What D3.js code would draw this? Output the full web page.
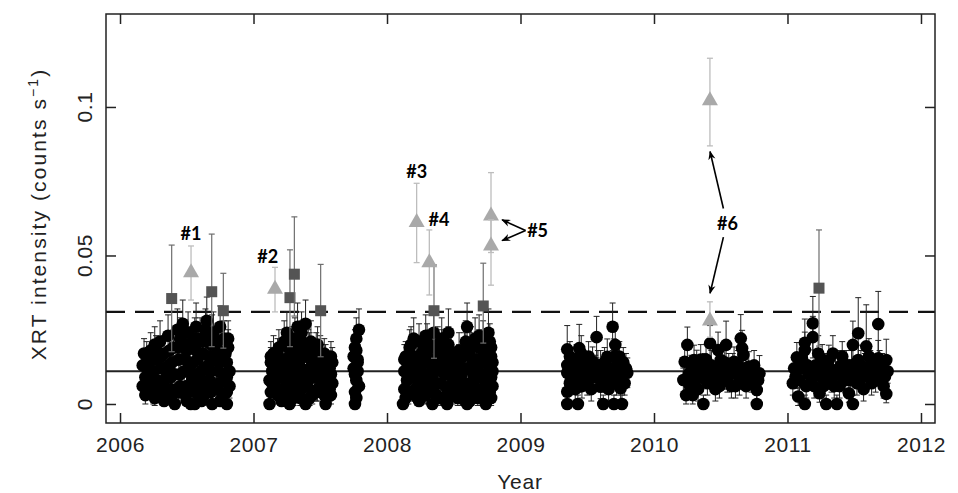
<!DOCTYPE html>
<html><head><meta charset="utf-8">
<script src="https://cdn.jsdelivr.net/npm/d3@7"></script>
<style>
html,body{margin:0;padding:0;background:#fff;}
svg{display:block;}
</style></head>
<body>
<svg id="chart" width="958" height="493"></svg>
<script>
// ---------------- DATA ----------------
// tick labels
const yearTicks = [2006, 2007, 2008, 2009, 2010, 2011, 2012];
const rateTicks = [0, 0.05, 0.1];
const rateTickLabels = ["0", "0.05", "0.1"];

// reference levels
const meanLevel = 0.011;
const thresholdLevel = 0.031;

// regular observations: [year, rate, error]
const obs2006 = [
[2006.17,0.013,0.004],[2006.17,0.006,0.003],[2006.18,0.017,0.005],[2006.19,0.009,0.004],[2006.19,0.003,0.003],[2006.21,0.014,0.005],[2006.22,0.007,0.004],[2006.23,0.018,0.006],[2006.24,0.011,0.004],[2006.25,0.003,0.003],[2006.26,0.020,0.006],[2006.27,0.015,0.005],[2006.28,0.008,0.004],[2006.30,0.021,0.007],[2006.31,0.012,0.005],[2006.32,0.004,0.003],[2006.33,0.017,0.006],[2006.35,0.009,0.004],[2006.36,0.023,0.007],[2006.37,0.013,0.005],[2006.38,0.005,0.003],[2006.40,0.019,0.006],[2006.41,0.000,0.003],[2006.41,0.010,0.004],[2006.43,0.025,0.007],[2006.44,0.015,0.005],[2006.45,0.006,0.004],[2006.46,0.021,0.007],[2006.47,0.027,0.008],[2006.48,0.011,0.005],[2006.49,0.003,0.003],[2006.50,0.018,0.006],[2006.51,0.024,0.007],[2006.52,0.013,0.005],[2006.53,0.000,0.003],[2006.54,0.008,0.004],[2006.55,0.020,0.006],[2006.56,0.000,0.003],[2006.57,0.026,0.008],[2006.58,0.015,0.005],[2006.59,0.005,0.004],[2006.60,0.022,0.007],[2006.61,0.011,0.005],[2006.62,0.017,0.006],[2006.63,0.003,0.003],[2006.64,0.025,0.007],[2006.65,0.028,0.008],[2006.66,0.013,0.005],[2006.67,0.008,0.004],[2006.68,0.020,0.006],[2006.69,0.000,0.003],[2006.70,0.024,0.007],[2006.71,0.015,0.005],[2006.72,0.005,0.004],[2006.73,0.021,0.006],[2006.74,0.011,0.005],[2006.75,0.026,0.007],[2006.76,0.017,0.006],[2006.77,0.003,0.003],[2006.78,0.022,0.006],[2006.79,0.009,0.004],[2006.80,0.000,0.003],[2006.80,0.014,0.005],[2006.81,0.019,0.006],[2006.82,0.006,0.004],[2006.82,0.011,0.004],
[2006.20,0.005,0.003],[2006.21,0.010,0.004],[2006.20,0.016,0.005],[2006.26,0.006,0.003],[2006.25,0.011,0.004],[2006.27,0.018,0.005],[2006.26,0.002,0.003],[2006.32,0.007,0.004],[2006.33,0.012,0.004],[2006.31,0.016,0.005],[2006.33,0.001,0.003],[2006.38,0.009,0.004],[2006.39,0.014,0.005],[2006.37,0.018,0.006],[2006.39,0.003,0.003],[2006.44,0.004,0.003],[2006.45,0.010,0.004],[2006.43,0.019,0.006],[2006.45,0.022,0.007],[2006.50,0.006,0.004],[2006.50,0.011,0.004],[2006.49,0.015,0.005],[2006.51,0.020,0.006],[2006.50,0.001,0.003],[2006.56,0.004,0.003],[2006.56,0.010,0.004],[2006.55,0.014,0.005],[2006.57,0.018,0.006],[2006.56,0.022,0.007],[2006.62,0.006,0.004],[2006.61,0.008,0.004],[2006.63,0.012,0.005],[2006.62,0.021,0.006],[2006.61,0.001,0.003],[2006.68,0.004,0.003],[2006.68,0.011,0.004],[2006.67,0.016,0.005],[2006.69,0.023,0.007],[2006.74,0.007,0.004],[2006.74,0.014,0.005],[2006.73,0.018,0.006],[2006.75,0.001,0.003],[2006.80,0.004,0.003],[2006.80,0.009,0.004],[2006.79,0.017,0.005],[2006.81,0.022,0.006]
];
const obs2007 = [
[2007.12,0.000,0.003],[2007.12,0.008,0.004],[2007.13,0.014,0.005],[2007.13,0.004,0.003],[2007.14,0.011,0.004],[2007.15,0.017,0.006],[2007.16,0.006,0.004],[2007.17,0.013,0.005],[2007.18,0.003,0.003],[2007.19,0.019,0.006],[2007.20,0.009,0.004],[2007.21,0.015,0.005],[2007.22,0.005,0.003],[2007.23,0.021,0.007],[2007.24,0.011,0.005],[2007.25,0.024,0.007],[2007.26,0.003,0.003],[2007.27,0.000,0.003],[2007.27,0.016,0.005],[2007.28,0.008,0.004],[2007.29,0.020,0.006],[2007.30,0.005,0.003],[2007.31,0.012,0.005],[2007.32,0.018,0.006],[2007.33,0.026,0.008],[2007.33,0.007,0.004],[2007.34,0.014,0.005],[2007.35,0.002,0.003],[2007.36,0.021,0.007],[2007.37,0.010,0.004],[2007.38,0.016,0.005],[2007.39,0.000,0.003],[2007.39,0.027,0.008],[2007.40,0.006,0.004],[2007.41,0.019,0.006],[2007.42,0.012,0.005],[2007.43,0.021,0.007],[2007.44,0.003,0.003],[2007.45,0.015,0.005],[2007.46,0.009,0.004],[2007.47,0.018,0.006],[2007.48,0.005,0.004],[2007.49,0.013,0.005],[2007.50,0.017,0.006],[2007.51,0.008,0.004],[2007.52,0.011,0.005],[2007.53,0.003,0.003],[2007.54,0.000,0.003],[2007.54,0.015,0.005],[2007.55,0.009,0.004],[2007.56,0.012,0.005],[2007.57,0.005,0.004],[2007.58,0.010,0.004],[2007.59,0.014,0.005],[2007.59,0.007,0.004],
[2007.14,0.007,0.004],[2007.15,0.012,0.004],[2007.13,0.016,0.005],[2007.19,0.004,0.003],[2007.20,0.013,0.005],[2007.18,0.017,0.005],[2007.21,0.001,0.003],[2007.25,0.006,0.004],[2007.24,0.010,0.004],[2007.26,0.019,0.006],[2007.25,0.014,0.005],[2007.30,0.002,0.003],[2007.31,0.009,0.004],[2007.30,0.015,0.005],[2007.31,0.022,0.007],[2007.36,0.005,0.003],[2007.35,0.012,0.004],[2007.37,0.017,0.005],[2007.36,0.024,0.007],[2007.42,0.002,0.003],[2007.41,0.008,0.004],[2007.43,0.015,0.005],[2007.42,0.018,0.006],[2007.47,0.004,0.003],[2007.48,0.011,0.004],[2007.46,0.014,0.005],[2007.48,0.020,0.006],[2007.53,0.006,0.004],[2007.52,0.013,0.005],[2007.53,0.017,0.005],[2007.58,0.003,0.003],[2007.57,0.012,0.004],[2007.58,0.016,0.005]
];
const obs2007b = [
[2007.76,0.000,0.003],[2007.76,0.004,0.003],[2007.77,0.008,0.004],[2007.75,0.012,0.004],[2007.78,0.015,0.005],[2007.76,0.019,0.006],[2007.77,0.022,0.007],[2007.79,0.025,0.007],[2007.78,0.011,0.004],[2007.79,0.006,0.003],[2007.75,0.016,0.005],[2007.77,0.002,0.003],[2007.76,0.010,0.004],[2007.78,0.014,0.005],[2007.77,0.018,0.006]
];
const obs2008 = [
[2008.12,0.000,0.003],[2008.13,0.005,0.003],[2008.13,0.011,0.004],[2008.14,0.016,0.005],[2008.15,0.008,0.004],[2008.16,0.003,0.003],[2008.17,0.019,0.006],[2008.18,0.013,0.005],[2008.19,0.009,0.004],[2008.20,0.022,0.007],[2008.21,0.005,0.004],[2008.22,0.016,0.005],[2008.23,0.002,0.003],[2008.24,0.021,0.006],[2008.25,0.012,0.005],[2008.26,0.008,0.004],[2008.27,0.018,0.006],[2008.28,0.004,0.003],[2008.29,0.023,0.007],[2008.30,0.014,0.005],[2008.31,0.010,0.004],[2008.32,0.019,0.006],[2008.33,0.006,0.004],[2008.34,0.000,0.003],[2008.34,0.015,0.005],[2008.35,0.024,0.008],[2008.36,0.011,0.005],[2008.37,0.003,0.003],[2008.38,0.020,0.006],[2008.39,0.013,0.005],[2008.40,0.007,0.004],[2008.41,0.022,0.007],[2008.42,0.016,0.005],[2008.43,0.002,0.003],[2008.44,0.010,0.004],[2008.45,0.000,0.003],[2008.46,0.024,0.008],[2008.46,0.014,0.005],[2008.47,0.006,0.004],[2008.48,0.017,0.006],[2008.49,0.011,0.004],
[2008.14,0.002,0.003],[2008.15,0.012,0.004],[2008.13,0.015,0.005],[2008.19,0.004,0.003],[2008.20,0.011,0.004],[2008.19,0.016,0.005],[2008.18,0.020,0.006],[2008.24,0.006,0.004],[2008.25,0.015,0.005],[2008.23,0.010,0.004],[2008.24,0.001,0.003],[2008.29,0.003,0.003],[2008.30,0.008,0.004],[2008.29,0.017,0.005],[2008.30,0.021,0.006],[2008.35,0.004,0.003],[2008.34,0.009,0.004],[2008.36,0.019,0.006],[2008.35,0.013,0.005],[2008.40,0.002,0.003],[2008.41,0.011,0.004],[2008.39,0.016,0.005],[2008.41,0.019,0.006],[2008.45,0.005,0.003],[2008.45,0.012,0.004],[2008.44,0.018,0.006],[2008.46,0.020,0.006],[2008.49,0.003,0.003],[2008.50,0.008,0.004],[2008.49,0.014,0.005]
];
const obs2008b = [
[2008.52,0.006,0.004],[2008.53,0.013,0.005],[2008.54,0.018,0.006],[2008.55,0.002,0.003],[2008.56,0.010,0.004],[2008.57,0.016,0.005],[2008.58,0.007,0.004],[2008.59,0.021,0.007],[2008.60,0.000,0.003],[2008.60,0.026,0.008],[2008.61,0.012,0.005],[2008.62,0.018,0.006],[2008.63,0.004,0.003],[2008.64,0.015,0.005],[2008.65,0.009,0.004],[2008.66,0.022,0.007],[2008.67,0.012,0.005],[2008.68,0.005,0.003],[2008.69,0.019,0.006],[2008.70,0.010,0.004],[2008.71,0.002,0.003],[2008.72,0.021,0.007],[2008.73,0.014,0.005],[2008.74,0.000,0.003],[2008.74,0.007,0.004],[2008.75,0.017,0.006],[2008.76,0.024,0.008],[2008.77,0.011,0.005],[2008.77,0.004,0.003],[2008.78,0.019,0.006],[2008.78,0.009,0.004],[2008.79,0.014,0.005],
[2008.53,0.002,0.003],[2008.53,0.009,0.004],[2008.54,0.015,0.005],[2008.58,0.004,0.003],[2008.57,0.012,0.004],[2008.58,0.018,0.006],[2008.59,0.001,0.003],[2008.63,0.007,0.004],[2008.64,0.011,0.004],[2008.63,0.020,0.006],[2008.62,0.001,0.003],[2008.68,0.002,0.003],[2008.68,0.009,0.004],[2008.67,0.015,0.005],[2008.69,0.023,0.007],[2008.73,0.004,0.003],[2008.72,0.010,0.004],[2008.73,0.017,0.005],[2008.78,0.002,0.003],[2008.79,0.006,0.004],[2008.77,0.021,0.006],[2008.79,0.011,0.004],[2008.78,0.016,0.005]
];
const obs2009 = [
[2009.35,0.0184,0.008],[2009.35,0.0131,0.005],[2009.35,0.0105,0.004],[2009.35,0.0041,0.003],[2009.35,0.000,0.003],[2009.38,0.009,0.004],[2009.40,0.012,0.005],[2009.44,0.0188,0.008],[2009.455,0.017,0.006],[2009.467,0.013,0.005],[2009.43,0.011,0.004],[2009.44,0.008,0.004],[2009.43,0.000,0.003],[2009.47,0.010,0.004],[2009.50,0.007,0.004],[2009.52,0.012,0.005],[2009.54,0.0142,0.005],[2009.57,0.0225,0.007],[2009.56,0.0114,0.005],[2009.58,0.009,0.004],[2009.60,0.0058,0.004],[2009.60,0.013,0.005],[2009.62,0.000,0.003],[2009.64,0.008,0.004],[2009.65,0.0159,0.006],[2009.67,0.012,0.005],[2009.69,0.026,0.008],[2009.71,0.0199,0.007],[2009.70,0.0159,0.006],[2009.69,0.0114,0.005],[2009.72,0.007,0.004],[2009.73,0.0126,0.005],[2009.75,0.0105,0.004],[2009.75,0.0053,0.004],[2009.70,0.000,0.003],[2009.76,0.000,0.003],[2009.77,0.014,0.005],[2009.78,0.007,0.004],[2009.80,0.0105,0.005],
[2009.37,0.007,0.004],[2009.37,0.016,0.005],[2009.41,0.005,0.004],[2009.42,0.015,0.005],[2009.46,0.006,0.004],[2009.49,0.011,0.004],[2009.51,0.016,0.005],[2009.53,0.005,0.004],[2009.55,0.009,0.004],[2009.58,0.013,0.005],[2009.62,0.010,0.004],[2009.63,0.014,0.005],[2009.66,0.005,0.004],[2009.68,0.009,0.004],[2009.72,0.013,0.005],[2009.74,0.016,0.005],[2009.79,0.012,0.005]
];
const obs2010 = [
[2010.25,0.0199,0.006],[2010.23,0.0142,0.005],[2010.22,0.0081,0.004],[2010.24,0.003,0.003],[2010.27,0.006,0.004],[2010.29,0.003,0.003],[2010.28,0.0114,0.005],[2010.30,0.0148,0.005],[2010.32,0.0131,0.005],[2010.34,0.009,0.004],[2010.35,0.015,0.005],[2010.37,0.000,0.003],[2010.38,0.012,0.005],[2010.40,0.007,0.004],[2010.42,0.0204,0.006],[2010.44,0.010,0.004],[2010.46,0.005,0.004],[2010.48,0.0182,0.006],[2010.50,0.0148,0.005],[2010.52,0.009,0.004],[2010.54,0.0199,0.008],[2010.56,0.012,0.005],[2010.58,0.006,0.004],[2010.60,0.0142,0.005],[2010.62,0.010,0.004],[2010.64,0.007,0.004],[2010.65,0.0221,0.008],[2010.66,0.0188,0.006],[2010.67,0.0165,0.006],[2010.68,0.009,0.004],[2010.71,0.0126,0.005],[2010.73,0.008,0.004],[2010.75,0.013,0.005],[2010.77,0.0047,0.004],[2010.77,0.000,0.003],[2010.79,0.0103,0.006],
[2010.26,0.010,0.004],[2010.31,0.008,0.004],[2010.33,0.005,0.004],[2010.36,0.011,0.004],[2010.39,0.015,0.005],[2010.41,0.010,0.004],[2010.43,0.013,0.005],[2010.45,0.008,0.004],[2010.47,0.012,0.005],[2010.49,0.006,0.004],[2010.51,0.011,0.004],[2010.53,0.014,0.005],[2010.55,0.008,0.004],[2010.57,0.010,0.004],[2010.59,0.012,0.005],[2010.61,0.006,0.004],[2010.63,0.013,0.005],[2010.66,0.011,0.004],[2010.69,0.006,0.004],[2010.70,0.010,0.004],[2010.74,0.010,0.004],[2010.78,0.008,0.004]
];
const obs2011 = [
[2011.04,0.007,0.004],[2011.06,0.0092,0.004],[2011.07,0.0157,0.005],[2011.08,0.0025,0.003],[2011.10,0.012,0.005],[2011.13,0.0206,0.008],[2011.13,0.0182,0.006],[2011.13,0.000,0.003],[2011.16,0.010,0.004],[2011.19,0.0272,0.009],[2011.19,0.0225,0.007],[2011.20,0.006,0.004],[2011.21,0.013,0.005],[2011.23,0.017,0.006],[2011.24,0.0036,0.003],[2011.26,0.009,0.004],[2011.26,0.015,0.005],[2011.28,0.012,0.005],[2011.29,0.000,0.003],[2011.31,0.0148,0.005],[2011.33,0.008,0.004],[2011.34,0.017,0.006],[2011.36,0.011,0.005],[2011.37,0.000,0.003],[2011.39,0.006,0.004],[2011.41,0.010,0.004],[2011.41,0.016,0.005],[2011.44,0.013,0.005],[2011.46,0.0036,0.003],[2011.47,0.008,0.004],[2011.49,0.0199,0.008],[2011.49,0.000,0.003],[2011.51,0.011,0.005],[2011.53,0.0238,0.012],[2011.53,0.0148,0.005],[2011.56,0.009,0.004],[2011.57,0.005,0.004],[2011.58,0.012,0.005],[2011.59,0.0194,0.014],[2011.61,0.016,0.006],[2011.63,0.007,0.004],[2011.65,0.011,0.005],[2011.68,0.0269,0.011],[2011.68,0.0154,0.006],[2011.70,0.010,0.004],[2011.72,0.006,0.004],[2011.73,0.0092,0.004],[2011.74,0.0148,0.007],[2011.74,0.0034,0.003],
[2011.05,0.012,0.004],[2011.09,0.008,0.004],[2011.11,0.015,0.005],[2011.14,0.006,0.004],[2011.15,0.013,0.005],[2011.18,0.009,0.004],[2011.22,0.010,0.004],[2011.25,0.012,0.005],[2011.27,0.006,0.004],[2011.30,0.009,0.004],[2011.32,0.012,0.005],[2011.35,0.006,0.004],[2011.38,0.010,0.004],[2011.40,0.013,0.005],[2011.43,0.008,0.004],[2011.45,0.011,0.004],[2011.48,0.013,0.005],[2011.52,0.007,0.004],[2011.55,0.013,0.005],[2011.60,0.010,0.004],[2011.62,0.013,0.005],[2011.66,0.008,0.004],[2011.69,0.013,0.005],[2011.71,0.012,0.005],[2011.75,0.011,0.004]
];

// moderately bright observations (dark grey squares): year, rate, lower, upper
const sqYear  = [2006.387, 2006.687, 2006.774, 2007.273, 2007.306, 2007.503, 2008.352, 2008.721, 2011.236];
const sqRate  = [0.0355, 0.0378, 0.0314, 0.0358, 0.0437, 0.0314, 0.0314, 0.0330, 0.0390];
const sqLow   = [0.0176, 0.0193, 0.0188, 0.0193, 0.0296, 0.0159, 0.0154, 0.0205, 0.0195];
const sqHigh  = [0.0535, 0.0572, 0.0440, 0.0519, 0.0630, 0.0470, 0.0468, 0.0474, 0.0586];

// flares (light grey triangles)
const flYear  = [2006.532, 2007.161, 2008.222, 2008.317, 2008.779, 2008.779, 2010.419, 2010.419];
const flRate  = [0.0445, 0.0390, 0.0614, 0.0479, 0.0636, 0.0535, 0.1024, 0.0283];
const flLow   = [0.0350, 0.0310, 0.0476, 0.0367, 0.0510, 0.0400, 0.0869, 0.0225];
const flHigh  = [0.0532, 0.0460, 0.0743, 0.0586, 0.0779, 0.0620, 0.1164, 0.0344];

// flare labels: text, year, rate
const flareLabels = ["#1", "#2", "#3", "#4", "#5", "#6"];
const flareLabelYear = [2006.532, 2007.107, 2008.222, 2008.389, 2009.05, 2010.55];
const flareLabelRate = [0.0575, 0.0497, 0.0785, 0.0623, 0.0585, 0.0610];

// ---------------- CHART ----------------
const svg = d3.select("#chart");
const L = 106, R = 935, T = 14, B = 423;
const x = d3.scaleLinear().domain([2005.895, 2012.105]).range([L, R]);
const y = d3.scaleLinear().domain([-0.0064, 0.1313]).range([B, T]);
const axisFont = "'Liberation Sans', Arial, sans-serif";

// reference lines
svg.append("line").attr("x1", L).attr("x2", R).attr("y1", y(meanLevel)).attr("y2", y(meanLevel))
  .attr("stroke", "#222").attr("stroke-width", 2);
svg.append("line").attr("x1", L).attr("x2", R).attr("y1", y(thresholdLevel)).attr("y2", y(thresholdLevel))
  .attr("stroke", "#111").attr("stroke-width", 2.2).attr("stroke-dasharray", "19,10");

// black observations
const allObs = [].concat(obs2006, obs2007, obs2007b, obs2008, obs2008b, obs2009, obs2010, obs2011);
const eb = svg.append("g").attr("stroke", "#222").attr("stroke-width", 1).attr("fill", "none");
allObs.forEach(d => {
  const cx = x(d[0]), y1 = y(d[1] + d[2]), y0 = y(Math.max(d[1] - d[2], -0.0005));
  eb.append("line").attr("x1", cx).attr("x2", cx).attr("y1", y1).attr("y2", y0);
  eb.append("line").attr("x1", cx - 3).attr("x2", cx + 3).attr("y1", y1).attr("y2", y1);
  eb.append("line").attr("x1", cx - 3).attr("x2", cx + 3).attr("y1", y0).attr("y2", y0);
});
svg.append("g").selectAll("circle").data(allObs).join("circle")
  .attr("cx", d => x(d[0])).attr("cy", d => y(d[1])).attr("r", 6.3).attr("fill", "#000");

// squares
const sqG = svg.append("g");
sqYear.forEach((yr, i) => {
  const cx = x(yr);
  sqG.append("line").attr("x1", cx).attr("x2", cx).attr("y1", y(sqHigh[i])).attr("y2", y(sqLow[i])).attr("stroke", "#6e6e6e").attr("stroke-width", 1.2);
  [sqHigh[i], sqLow[i]].forEach(v => sqG.append("line").attr("x1", cx - 3).attr("x2", cx + 3).attr("y1", y(v)).attr("y2", y(v)).attr("stroke", "#6e6e6e").attr("stroke-width", 1.2));
  sqG.append("rect").attr("x", cx - 5.5).attr("y", y(sqRate[i]) - 5.5).attr("width", 11).attr("height", 11).attr("fill", "#545454");
});

// triangles
const trG = svg.append("g");
flYear.forEach((yr, i) => {
  const cx = x(yr);
  trG.append("line").attr("x1", cx).attr("x2", cx).attr("y1", y(flHigh[i])).attr("y2", y(flLow[i])).attr("stroke", "#bdbdbd").attr("stroke-width", 1.3);
  [flHigh[i], flLow[i]].forEach(v => trG.append("line").attr("x1", cx - 3).attr("x2", cx + 3).attr("y1", y(v)).attr("y2", y(v)).attr("stroke", "#bdbdbd").attr("stroke-width", 1.3));
  const cy = y(flRate[i]);
  trG.append("path").attr("d", `M${cx},${cy - 8.5}L${cx + 8},${cy + 5.5}L${cx - 8},${cy + 5.5}Z`).attr("fill", "#a9a9a9");
});

// frame
svg.append("rect").attr("x", L).attr("y", T).attr("width", R - L).attr("height", B - T)
  .attr("fill", "none").attr("stroke", "#222").attr("stroke-width", 1.5);

// axes (ticks inward)
const ax = svg.append("g").attr("transform", `translate(0,${B})`)
  .call(d3.axisBottom(x).tickValues(yearTicks).tickFormat(d3.format("d")).tickSize(-10).tickPadding(14));
const axT = svg.append("g").attr("transform", `translate(0,${T})`)
  .call(d3.axisTop(x).tickValues(yearTicks).tickFormat("").tickSize(-10));
const ayL = svg.append("g").attr("transform", `translate(${L},0)`)
  .call(d3.axisLeft(y).tickValues(rateTicks).tickFormat("").tickSize(-10));
const ayR = svg.append("g").attr("transform", `translate(${R},0)`)
  .call(d3.axisRight(y).tickValues(rateTicks).tickFormat("").tickSize(-10));
[ax, axT, ayL, ayR].forEach(g => {
  g.select(".domain").remove();
  g.selectAll(".tick line").attr("stroke", "#222").attr("stroke-width", 1.5);
});
ax.selectAll("text").attr("font-family", axisFont).attr("font-size", 21).attr("letter-spacing", 0.6).attr("fill", "#222");

// y tick labels (rotated)
svg.append("g").selectAll("text").data(rateTicks).join("text")
  .attr("transform", (d) => `translate(92,${y(d)}) rotate(-90)`)
  .attr("text-anchor", "middle")
  .attr("font-family", axisFont).attr("font-size", 21).attr("letter-spacing", 0.6).attr("fill", "#222")
  .text((d, i) => rateTickLabels[i]);

// axis titles
svg.append("text").attr("x", 520).attr("y", 489).attr("text-anchor", "middle")
  .attr("font-family", axisFont).attr("font-size", 21).attr("letter-spacing", 0.8).attr("fill", "#222").text("Year");
const yt = svg.append("text").attr("transform", "translate(46,214) rotate(-90)").attr("text-anchor", "middle")
  .attr("font-family", axisFont).attr("font-size", 21).attr("fill", "#222").attr("letter-spacing", 2.1);
yt.append("tspan").text("XRT intensity (counts s");
yt.append("tspan").attr("dy", -8).attr("font-size", 14).text("−1");
yt.append("tspan").attr("dy", 8).text(")");

// annotations
const annFont = "Lato, 'Open Sans', sans-serif";
svg.append("g").selectAll("text").data(flareLabels).join("text")
  .attr("x", (d, i) => x(flareLabelYear[i])).attr("y", (d, i) => y(flareLabelRate[i]))
  .attr("text-anchor", (d, i) => i === 4 ? "start" : "middle")
  .attr("dominant-baseline", "central")
  .attr("font-family", annFont).attr("font-weight", "bold").attr("font-size", 18).attr("fill", "#000")
  .text(d => d);

const defs = svg.append("defs");
defs.append("marker").attr("id", "ah").attr("viewBox", "0 0 10 10").attr("refX", 9).attr("refY", 5)
  .attr("markerWidth", 9).attr("markerHeight", 9).attr("orient", "auto").attr("markerUnits", "userSpaceOnUse")
  .append("path").attr("d", "M0,1 L10,5 L0,9 L3,5 Z").attr("fill", "#000");

// arrows for #5 and #6 (from label towards flares)
const arrows = [
  [2009.038, 0.0584, 2008.862, 0.0620],
  [2009.038, 0.0584, 2008.862, 0.0550],
  [2010.52, 0.0658, 2010.42, 0.0850],
  [2010.52, 0.0562, 2010.42, 0.0373]
];
svg.append("g").selectAll("line").data(arrows).join("line")
  .attr("x1", d => x(d[0])).attr("y1", d => y(d[1])).attr("x2", d => x(d[2])).attr("y2", d => y(d[3]))
  .attr("stroke", "#000").attr("stroke-width", 1.6).attr("marker-end", "url(#ah)");
</script>
</body></html>
